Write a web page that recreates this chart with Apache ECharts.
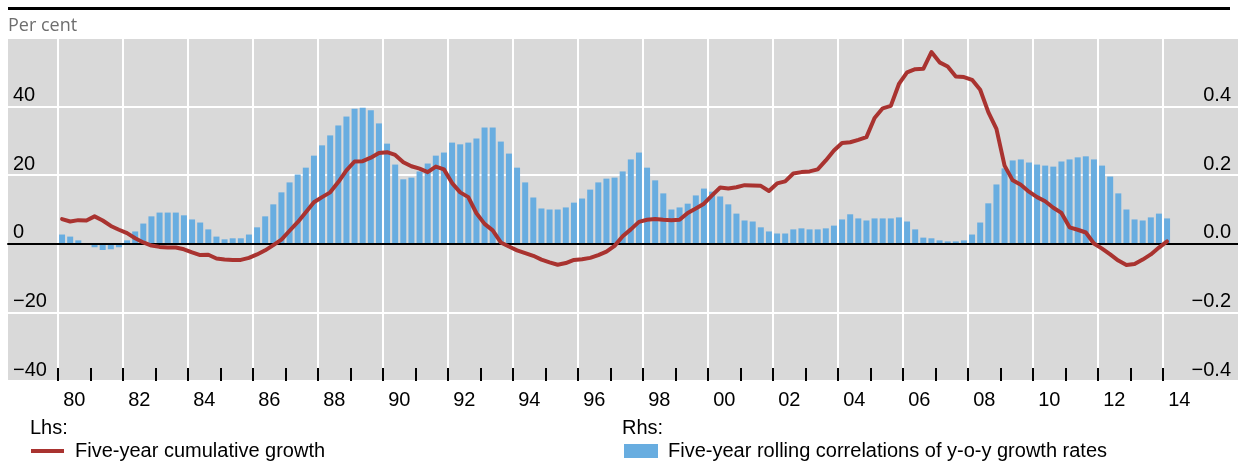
<!DOCTYPE html>
<html>
<head>
<meta charset="utf-8">
<script src="https://cdn.jsdelivr.net/npm/echarts@6/dist/echarts.min.js"></script>
<style>
  html, body { margin: 0; padding: 0; background: #ffffff; }
  #chart { width: 1238px; height: 463px; }
</style>
</head>
<body>
<div id="chart"></div>
<script>
// Quarterly observations, 1980 Q1 to 2014 Q1
const START_YEAR = 1980;

// Five-year cumulative growth, per cent (left scale)
const growth = [
  7.2, 6.5, 6.9, 6.8,        // 1980
  8.0, 6.8, 5.2, 4.1,        // 1981
  3.1, 1.6, 0.4, -0.5,       // 1982
  -0.9, -1.1, -1.1, -1.6,    // 1983
  -2.5, -3.3, -3.2, -4.3,    // 1984
  -4.6, -4.7, -4.7, -4.1,    // 1985
  -3.1, -1.9, -0.4, 1.2,     // 1986
  3.8, 6.3, 9.2, 12.1,       // 1987
  13.6, 15.0, 18.0, 21.4,    // 1988
  24.0, 24.1, 25.1, 26.5,    // 1989
  26.7, 25.9, 23.8, 22.6,    // 1990
  21.9, 20.9, 22.5, 21.7,    // 1991
  17.7, 15.0, 13.6, 8.9,     // 1992
  5.8, 3.9, 0.4, -0.8,       // 1993
  -1.9, -2.7, -3.5, -4.6,    // 1994
  -5.4, -6.1, -5.6, -4.7,    // 1995
  -4.5, -4.1, -3.3, -2.3,    // 1996
  -0.6, 2.2, 4.2, 6.4,       // 1997
  7.0, 7.2, 7.0, 6.9,        // 1998
  7.0, 9.0, 10.3, 11.7,      // 1999
  14.1, 16.4, 16.1, 16.5,    // 2000
  17.1, 17.0, 16.9, 15.4,    // 2001
  17.6, 18.2, 20.5, 20.9,    // 2002
  21.1, 21.7, 24.3, 27.2,    // 2003
  29.4, 29.6, 30.3, 31.1,    // 2004
  36.7, 39.5, 40.2, 46.6,    // 2005
  50.0, 50.9, 51.0, 55.9,    // 2006
  52.9, 51.7, 48.8, 48.6,    // 2007
  47.8, 44.9, 38.4, 33.5,    // 2008
  22.8, 18.5, 17.2, 15.2,    // 2009
  13.6, 12.4, 10.5, 9.0,     // 2010
  4.8, 4.1, 3.3, 0.1,        // 2011
  -1.4, -3.1, -4.9, -6.2,    // 2012
  -5.9, -4.6, -3.1, -1.1,    // 2013
  0.7                        // 2014
];

// Five-year rolling correlations of y-o-y growth rates (right scale)
const correlation = [
  0.027, 0.021, 0.010, 0.000,     // 1980
  -0.010, -0.018, -0.016, -0.010, // 1981
  0.010, 0.036, 0.059, 0.080,     // 1982
  0.091, 0.091, 0.091, 0.083,     // 1983
  0.071, 0.062, 0.042, 0.021,     // 1984
  0.013, 0.016, 0.016, 0.027,     // 1985
  0.048, 0.080, 0.115, 0.150,     // 1986
  0.179, 0.202, 0.222, 0.257,     // 1987
  0.287, 0.316, 0.345, 0.371,     // 1988
  0.394, 0.397, 0.389, 0.351,     // 1989
  0.292, 0.231, 0.188, 0.193,     // 1990
  0.211, 0.234, 0.257, 0.266,     // 1991
  0.295, 0.290, 0.295, 0.307,     // 1992
  0.339, 0.339, 0.298, 0.263,     // 1993
  0.222, 0.179, 0.135, 0.103,     // 1994
  0.100, 0.100, 0.106, 0.120,     // 1995
  0.132, 0.158, 0.179, 0.190,     // 1996
  0.193, 0.211, 0.246, 0.266,     // 1997
  0.222, 0.185, 0.147, 0.100,     // 1998
  0.106, 0.117, 0.141, 0.161,     // 1999
  0.152, 0.138, 0.115, 0.088,     // 2000
  0.068, 0.065, 0.048, 0.036,     // 2001
  0.030, 0.030, 0.042, 0.045,     // 2002
  0.042, 0.042, 0.045, 0.053,     // 2003
  0.071, 0.086, 0.074, 0.068,     // 2004
  0.074, 0.074, 0.074, 0.077,     // 2005
  0.065, 0.042, 0.018, 0.016,     // 2006
  0.010, 0.007, 0.007, 0.010,     // 2007
  0.027, 0.062, 0.118, 0.173,     // 2008
  0.220, 0.243, 0.246, 0.237,     // 2009
  0.231, 0.228, 0.225, 0.240,     // 2010
  0.246, 0.252, 0.255, 0.246,     // 2011
  0.228, 0.196, 0.147, 0.100,     // 2012
  0.071, 0.068, 0.077, 0.088,     // 2013
  0.074                           // 2014
];

// Year labels under the axis, one per two-year band
const yearLabels = ['80', '82', '84', '86', '88', '90', '92', '94', '96',
                    '98', '00', '02', '04', '06', '08', '10', '12', '14'];

const SERIES_LHS = 'Five-year cumulative growth';
const SERIES_RHS = 'Five-year rolling correlations of y-o-y growth rates';

// Each observation sits at the middle of its quarter
const quarterTime = growth.map((_, i) => START_YEAR + i / 4 + 0.125);

// Layout: plot panel and the span of the year grid (1980 to 2014)
const PANEL_LEFT = 8, PANEL_RIGHT = 1238, PANEL_TOP = 38, PANEL_BOTTOM = 381;
const FIRST_YEAR = 1980, LAST_YEAR = 2014;
const YEAR_LEFT = 58, PX_PER_YEAR = 32.5;
const YEAR_WIDTH = (LAST_YEAR - FIRST_YEAR) * PX_PER_YEAR;
const X_MIN = FIRST_YEAR - (YEAR_LEFT - PANEL_LEFT) / PX_PER_YEAR;
const X_MAX = FIRST_YEAR + (PANEL_RIGHT - YEAR_LEFT) / PX_PER_YEAR;

const FONT = '"Liberation Sans", Arial, sans-serif';
const RED = '#A93330';
const BLUE = '#68ADE0';

const withMinus = s => s.replace('-', '\u2212');
const tickText = {
  fontFamily: FONT, fontSize: 20, color: '#000000', lineHeight: 20
};

const chart = echarts.init(document.getElementById('chart'), null, { renderer: 'canvas' });

chart.setOption({
  animation: false,
  backgroundColor: '#ffffff',
  title: [
    {
      text: 'Per cent', left: PANEL_LEFT, top: 17, padding: 0,
      textStyle: { fontFamily: '"Open Sans", sans-serif', fontSize: 18, fontWeight: 'normal',
                   color: '#6e6e6e', lineHeight: 18 }
    },
    {
      text: 'Lhs:', left: 30, top: 418, padding: 0,
      textStyle: { fontFamily: FONT, fontSize: 20, fontWeight: 'normal', color: '#000000', lineHeight: 20 }
    },
    {
      text: 'Rhs:', left: 622, top: 418, padding: 0,
      textStyle: { fontFamily: FONT, fontSize: 20, fontWeight: 'normal', color: '#000000', lineHeight: 20 }
    }
  ],
  legend: [
    {
      data: [SERIES_LHS], left: 31, top: 441, padding: 0,
      icon: 'rect', itemWidth: 33, itemHeight: 4,
      selectedMode: false,
      textStyle: { fontFamily: FONT, fontSize: 20, color: '#000000', padding: [0, 0, 0, 6] }
    },
    {
      data: [SERIES_RHS], left: 624, top: 441, padding: 0,
      icon: 'rect', itemWidth: 34, itemHeight: 14,
      selectedMode: false,
      textStyle: { fontFamily: FONT, fontSize: 20, color: '#000000', padding: [0, 0, 0, 5] }
    }
  ],
  grid: [
    {
      left: PANEL_LEFT, right: 1238 - PANEL_RIGHT, top: PANEL_TOP, bottom: 463 - PANEL_BOTTOM,
      show: true, backgroundColor: '#d9d9d9', borderWidth: 0
    },
    {
      left: YEAR_LEFT, width: YEAR_WIDTH, top: PANEL_TOP, bottom: 463 - PANEL_BOTTOM
    }
  ],
  xAxis: [
    {
      // time axis carrying the data, with the zero line
      gridIndex: 0, type: 'value', min: X_MIN, max: X_MAX, z: 3,
      axisLine: { show: true, onZero: true, lineStyle: { color: '#000000', width: 2 } },
      axisTick: { show: false }, axisLabel: { show: false }, splitLine: { show: false }
    },
    {
      // two-year gridlines and labels
      gridIndex: 1, type: 'value', min: FIRST_YEAR, max: LAST_YEAR, interval: 2, position: 'bottom',
      axisLine: { show: false }, axisTick: { show: false },
      splitLine: { show: true, lineStyle: { color: '#ffffff', width: 2 } },
      axisLabel: {
        ...tickText, margin: 9, padding: [0, 0, 0, PX_PER_YEAR],
        formatter: v => yearLabels[Math.round((v - FIRST_YEAR) / 2)] || ''
      }
    },
    {
      // yearly tick marks
      gridIndex: 1, type: 'value', min: FIRST_YEAR, max: LAST_YEAR, interval: 1, position: 'bottom',
      axisLine: { show: false },
      axisTick: { show: true, inside: true, length: 13, lineStyle: { color: '#000000', width: 2 } },
      axisLabel: { show: false }, splitLine: { show: false }
    }
  ],
  yAxis: [
    {
      gridIndex: 0, type: 'value', min: -40, max: 60, interval: 20, position: 'left',
      axisLine: { show: false }, axisTick: { show: false },
      splitLine: { show: true, lineStyle: { color: '#ffffff', width: 2 } },
      axisLabel: {
        ...tickText, inside: true, margin: 5, verticalAlign: 'bottom', padding: [0, 0, 1, 0],
        showMaxLabel: false,
        formatter: v => withMinus(String(Math.round(v)))
      }
    },
    {
      gridIndex: 0, type: 'value', min: -0.4, max: 0.6, interval: 0.2, position: 'right',
      axisLine: { show: false }, axisTick: { show: false }, splitLine: { show: false },
      axisLabel: {
        ...tickText, inside: true, margin: 7, verticalAlign: 'bottom', padding: [0, 0, 1, 0],
        showMaxLabel: false,
        formatter: v => withMinus((Math.abs(v) < 1e-9 ? 0 : v).toFixed(1))
      }
    },
    { gridIndex: 1, type: 'value', min: 0, max: 1, show: false }
  ],
  series: [
    {
      name: SERIES_RHS, type: 'bar', xAxisIndex: 0, yAxisIndex: 1,
      barWidth: 6, z: 2,
      itemStyle: { color: BLUE },
      data: quarterTime.map((t, i) => [t, correlation[i]])
    },
    {
      name: SERIES_LHS, type: 'line', xAxisIndex: 0, yAxisIndex: 0,
      showSymbol: false, symbol: 'none', z: 4,
      lineStyle: { color: RED, width: 4, join: 'round', cap: 'round' },
      itemStyle: { color: RED },
      data: quarterTime.map((t, i) => [t, growth[i]])
    }
  ],
  graphic: [
    {
      type: 'line', silent: true,
      shape: { x1: PANEL_LEFT, y1: 8.5, x2: 1230, y2: 8.5 },
      style: { stroke: '#000000', lineWidth: 3 }
    }
  ]
});
</script>
</body>
</html>
